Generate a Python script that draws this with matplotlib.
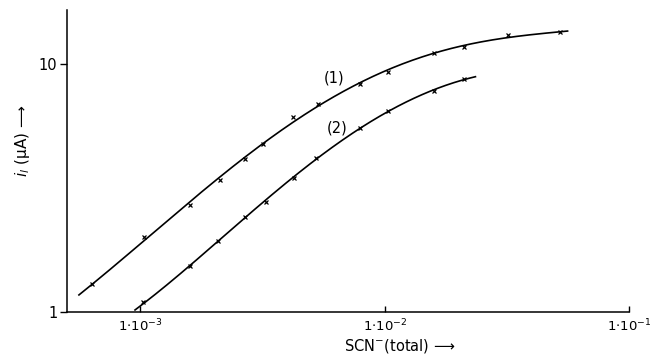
import numpy as np
import matplotlib
matplotlib.use("Agg")
import matplotlib.pyplot as plt
from matplotlib.ticker import FixedLocator, NullLocator, FixedFormatter

plt.rcParams['font.family'] = ['DejaVu Sans']
plt.rcParams['mathtext.fontset'] = 'dejavusans'

# Curve (1) measured points
x1 = [6.35e-4, 1.03e-3, 1.59e-3, 2.11e-3, 2.67e-3, 3.16e-3, 4.20e-3, 5.31e-3,
      7.9e-3, 1.03e-2, 1.59e-2, 2.11e-2, 3.19e-2, 5.2e-2]
y1 = [1.30, 2.01, 2.70, 3.41, 4.14, 4.76, 6.11, 6.90,
      8.30, 9.29, 11.07, 11.7, 13.1, 13.5]
# Curve (2) measured points
x2 = [1.02e-3, 1.59e-3, 2.07e-3, 2.67e-3, 3.25e-3, 4.24e-3, 5.21e-3,
      7.9e-3, 1.03e-2, 1.59e-2, 2.11e-2]
y2 = [1.10, 1.53, 1.93, 2.42, 2.78, 3.47, 4.18,
      5.52, 6.46, 7.78, 8.70]
# where the drawn curves start and end (x, y)
line1_start = (5.6e-4, 1.16)
line1_end = (5.6e-2, 13.5)
line2_start = (9.5e-4, 1.0)
line2_end = (2.35e-2, 8.9)

xticks = [1e-3, 1e-2, 1e-1]
xticklabels = [r'$1{\cdot}10^{-3}$', r'$1{\cdot}10^{-2}$', r'$1{\cdot}10^{-1}$']
yticks = [1, 10]
yticklabels = ['1', '10']

fig = plt.figure(figsize=(6.56, 3.62), dpi=100)
ax = fig.add_axes([0.102, 0.138, 0.857, 0.834])
ax.set_xscale('log')
ax.set_yscale('log')
ax.set_xlim(5.0e-4, 1e-1)
ax.set_ylim(1, 16.5)


def smooth_curve(xs, ys, st, en, deg):
    """Least-squares smooth curve (log-log) through the measured points."""
    lx = np.log10([st[0]] + list(xs) + [en[0]])
    ly = np.log10([st[1]] + list(ys) + [en[1]])
    c = np.polyfit(lx, ly, deg)
    xx = np.linspace(lx[0], lx[-1], 300)
    return 10 ** xx, 10 ** np.polyval(c, xx)


for xs, ys, st, en, deg in [(x1, y1, line1_start, line1_end, 5),
                            (x2, y2, line2_start, line2_end, 4)]:
    sx, sy = smooth_curve(xs, ys, st, en, deg)
    ax.plot(sx, sy, color='black', lw=1.2, clip_on=False)
    ax.plot(xs, ys, linestyle='none', marker='x', ms=3.5, mew=0.9,
            color='black', clip_on=False)

ax.text(6.18e-3, 8.78, '(1)', fontsize=10.5, ha='center', va='center')
ax.text(6.41e-3, 5.52, '(2)', fontsize=10.5, ha='center', va='center')

for s in ['top', 'right']:
    ax.spines[s].set_visible(False)
for s in ['left', 'bottom']:
    ax.spines[s].set_linewidth(1.1)

ax.xaxis.set_major_locator(FixedLocator(xticks))
ax.xaxis.set_major_formatter(FixedFormatter(xticklabels))
ax.xaxis.set_minor_locator(NullLocator())
ax.yaxis.set_major_locator(FixedLocator(yticks))
ax.yaxis.set_major_formatter(FixedFormatter(yticklabels))
ax.yaxis.set_minor_locator(NullLocator())
ax.tick_params(axis='x', direction='in', length=4, width=1, labelsize=9.5, pad=4)
ax.tick_params(axis='y', direction='out', length=5, width=1, labelsize=10.5, pad=2)

fig.text(0.61, 0.045, r'SCN$^{-}$(total) ⟶', fontsize=10.5, ha='center', va='center')
fig.text(0.035, 0.61, r'$i_l$ (µA) ⟶', fontsize=11, ha='center', va='center',
         rotation=90)

fig.savefig('out.png', dpi=100)
